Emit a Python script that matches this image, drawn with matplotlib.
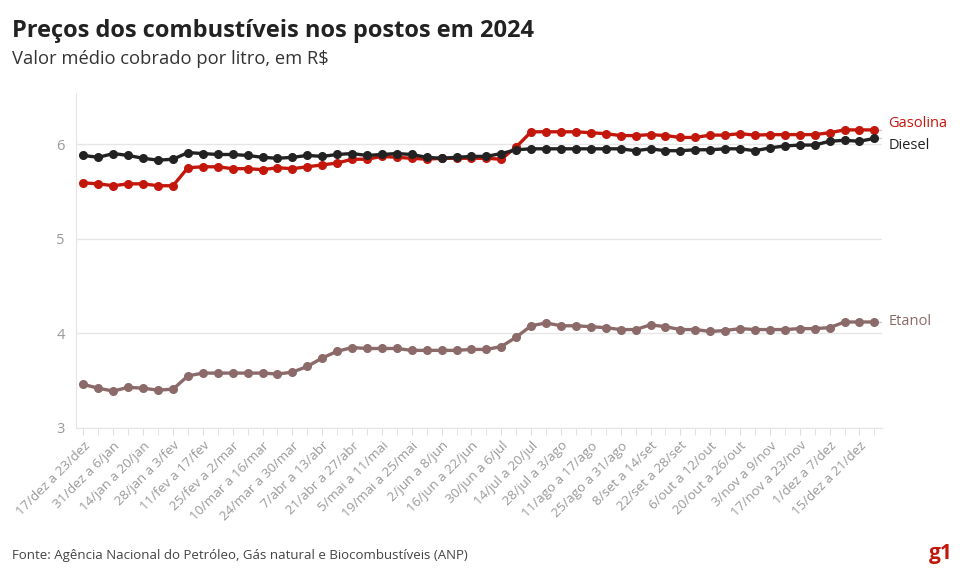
import matplotlib
matplotlib.use("Agg")
import matplotlib.pyplot as plt
import numpy as np

plt.rcParams['font.family'] = ['Open Sans', 'DejaVu Sans']

# weekly labels (every other week is labelled)
semanas = ["17/dez a 23/dez", "31/dez a 6/jan", "14/jan a 20/jan", "28/jan a 3/fev",
           "11/fev a 17/fev", "25/fev a 2/mar", "10/mar a 16/mar", "24/mar a 30/mar",
           "7/abr a 13/abr", "21/abr a 27/abr", "5/mai a 11/mai", "19/mai a 25/mai",
           "2/jun a 8/jun", "16/jun a 22/jun", "30/jun a 6/jul", "14/jul a 20/jul",
           "28/jul a 3/ago", "11/ago a 17/ago", "25/ago a 31/ago", "8/set a 14/set",
           "22/set a 28/set", "6/out a 12/out", "20/out a 26/out", "3/nov a 9/nov",
           "17/nov a 23/nov", "1/dez a 7/dez", "15/dez a 21/dez"]

gasolina = [5.59, 5.58, 5.56, 5.58, 5.58, 5.56, 5.56, 5.75, 5.76, 5.76,
            5.74, 5.74, 5.73, 5.75, 5.74, 5.76, 5.78, 5.80, 5.84, 5.84,
            5.87, 5.86, 5.85, 5.84, 5.85, 5.85, 5.85, 5.85, 5.84, 5.97,
            6.13, 6.13, 6.13, 6.13, 6.12, 6.11, 6.09, 6.09, 6.10, 6.09,
            6.07, 6.07, 6.095, 6.095, 6.11, 6.095, 6.10, 6.10, 6.10, 6.10,
            6.12, 6.15, 6.15, 6.15]

diesel = [5.88, 5.86, 5.90, 5.88, 5.85, 5.83, 5.84, 5.91, 5.90, 5.89,
          5.89, 5.88, 5.86, 5.85, 5.86, 5.88, 5.87, 5.89, 5.90, 5.88,
          5.89, 5.90, 5.89, 5.86, 5.85, 5.86, 5.87, 5.87, 5.90, 5.94,
          5.95, 5.95, 5.95, 5.95, 5.95, 5.95, 5.95, 5.93, 5.95, 5.93,
          5.93, 5.94, 5.94, 5.95, 5.95, 5.93, 5.96, 5.98, 5.99, 5.99,
          6.03, 6.04, 6.03, 6.06]

etanol = [3.46, 3.42, 3.39, 3.43, 3.42, 3.40, 3.41, 3.55, 3.58, 3.58,
          3.58, 3.58, 3.58, 3.57, 3.59, 3.65, 3.74, 3.81, 3.85, 3.84,
          3.84, 3.84, 3.82, 3.82, 3.82, 3.82, 3.83, 3.83, 3.86, 3.96,
          4.08, 4.11, 4.08, 4.08, 4.07, 4.06, 4.04, 4.04, 4.09, 4.07,
          4.04, 4.04, 4.02, 4.03, 4.05, 4.04, 4.04, 4.04, 4.05, 4.05,
          4.06, 4.12, 4.12, 4.12]

cor_gas = "#c4170c"
cor_die = "#222222"
cor_eta = "#8c6a6a"

x = np.arange(len(gasolina))

fig = plt.figure(figsize=(9.68, 5.74), dpi=100)
ax = fig.add_axes([0.0785, 0.2544, 0.8325, 0.5836])

for serie, cor in [(etanol, cor_eta), (gasolina, cor_gas), (diesel, cor_die)]:
    ax.plot(x, serie, color=cor, lw=2.4, marker="o", ms=5.5, zorder=3)

ax.set_xlim(-0.5, len(x) - 0.5)
ax.set_ylim(3, 6.54)
ax.set_yticks([3, 4, 5, 6])
ax.grid(axis="y", color="#e6e6e6", lw=1)
ax.set_axisbelow(True)

ax.set_xticks(x, minor=True)
ax.set_xticks(x[::2])
ax.set_xticklabels(semanas, rotation=45, ha="right", rotation_mode="anchor")
ax.tick_params(axis="x", which="both", length=5, color="#dddddd", labelsize=9.6,
               labelcolor="#999999", pad=3)
ax.tick_params(axis="y", length=0, labelsize=10.5, labelcolor="#999999", pad=8)

for lado in ["top", "right"]:
    ax.spines[lado].set_visible(False)
ax.spines["bottom"].set_color("#e6e6e6")
ax.spines["left"].set_color("#e6e6e6")

# labels at the end of the lines, with a small grey leader
ult = len(x) - 1
rotulos = [("Gasolina", gasolina[-1], cor_gas, 4.5),
           ("Diesel", diesel[-1], cor_die, -4.8),
           ("Etanol", etanol[-1], cor_eta, 0)]
for nome, valor, cor, dy in rotulos:
    ax.annotate(nome, xy=(ult, valor), xytext=(10, dy), textcoords="offset points",
                color=cor, fontsize=10.5, va="center", annotation_clip=False)
    ax.annotate("", xy=(ult, valor), xytext=(4, 0), textcoords="offset points",
                annotation_clip=False)
    ax.plot([ult + 0.25, ult + 0.45], [valor, valor], color="#cccccc", lw=1,
            clip_on=False)

fig.text(0.0124, 0.935, "Preços dos combustíveis nos postos em 2024", fontsize=17,
         fontweight="bold", color="#222222")
fig.text(0.0124, 0.888, "Valor médio cobrado por litro, em R$", fontsize=13.2,
         color="#333333")
fig.text(0.0124, 0.027, "Fonte: Agência Nacional do Petróleo, Gás natural e Biocombustíveis (ANP)",
         fontsize=9.5, color="#444444")
fig.text(0.984, 0.027, "g1", fontsize=15, fontweight="bold", color=cor_gas, ha="right")

fig.savefig("out.png", dpi=100, facecolor="white")
